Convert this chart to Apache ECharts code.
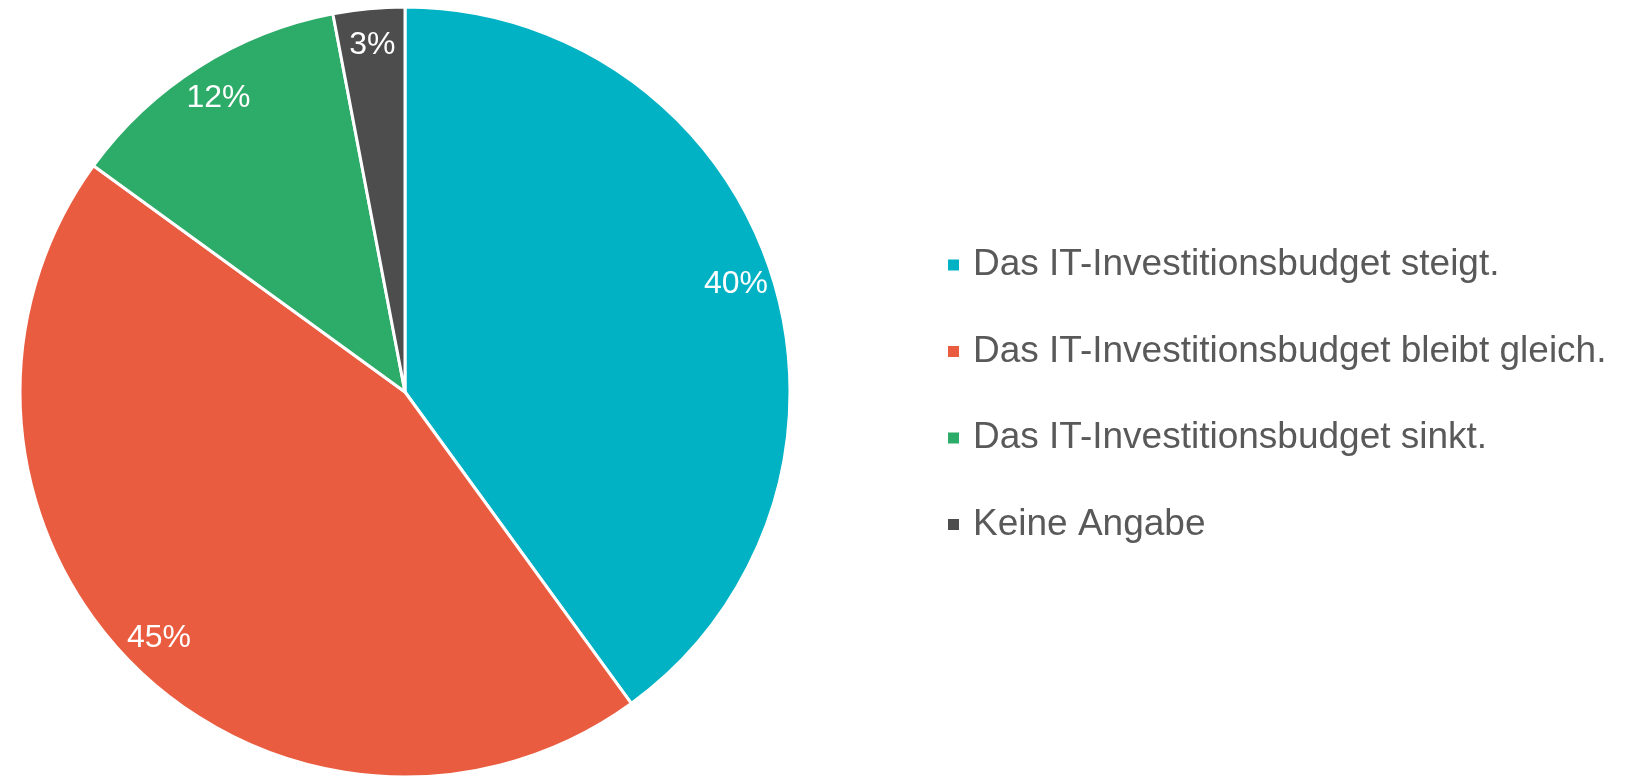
<!DOCTYPE html>
<html>
<head>
<meta charset="utf-8">
<script src="https://cdn.jsdelivr.net/npm/echarts@6/dist/echarts.min.js"></script>
<style>
html,body{margin:0;padding:0;background:#fff;}
#chart{width:1629px;height:777px;}
</style>
</head>
<body>
<div id="chart"></div>
<script>
var categories = [
  'Das IT-Investitionsbudget steigt.',
  'Das IT-Investitionsbudget bleibt gleich.',
  'Das IT-Investitionsbudget sinkt.',
  'Keine Angabe'
];
var values = [40, 45, 12, 3];
var colors = ['#00B2C4', '#EA5C40', '#2DAB68', '#4D4D4D'];

var FONT = '"Liberation Sans", Arial, sans-serif';
var pieData = categories.map(function (c, i) {
  return { name: c, value: values[i], itemStyle: { color: colors[i] } };
});

var chart = echarts.init(document.getElementById('chart'), null, { renderer: 'canvas' });
chart.setOption({
  animation: false,
  backgroundColor: '#ffffff',
  legend: {
    orient: 'vertical',
    left: 941,
    top: 237,
    itemWidth: 13,
    itemHeight: 13,
    itemGap: 40.5,
    icon: 'rect',
    data: categories,
    textStyle: {
      fontFamily: FONT,
      fontSize: 37,
      color: '#595959',
      lineHeight: 40,
      padding: [0, 0, 6, 8]
    }
  },
  series: [
    {
      type: 'pie',
      center: [405, 392],
      radius: [0, 385],
      startAngle: 90,
      clockwise: true,
      silent: true,
      label: { show: false },
      labelLine: { show: false },
      itemStyle: { borderColor: '#ffffff', borderWidth: 3 },
      data: pieData
    },
    {
      type: 'pie',
      center: [405, 392],
      radius: [305, 385],
      startAngle: 90,
      clockwise: true,
      silent: true,
      legendHoverLink: false,
      itemStyle: { color: 'rgba(0,0,0,0)', borderWidth: 0 },
      label: {
        show: true,
        position: 'inside',
        formatter: '{c}%',
        fontFamily: FONT,
        fontSize: 32,
        color: '#ffffff'
      },
      labelLine: { show: false },
      data: categories.map(function (c, i) {
        return { name: c, value: values[i], itemStyle: { color: 'rgba(0,0,0,0)' } };
      })
    }
  ]
});
</script>
</body>
</html>
